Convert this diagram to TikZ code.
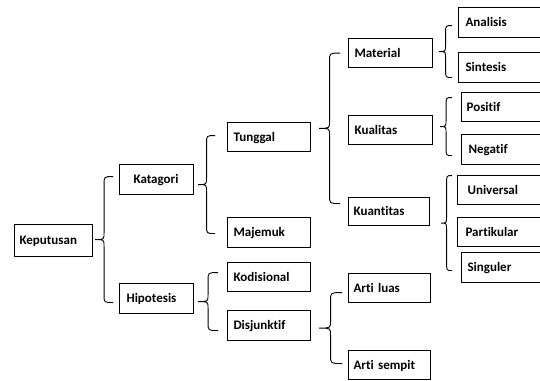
\documentclass[tikz,border=0pt]{standalone}
\usepackage{fontspec}
\setmainfont{Carlito}[RawFeature={-liga;-clig;-dlig}]
\usetikzlibrary{calc}

% curly brace from a parent box to its first and last child
% #1 parent, #2 top child, #3 bottom child,
% #4/#5 vertical shift of the upper/lower end, #6 gap at the tip, #7 gap at the ends
\newcommand\branch[7]{%
  \draw[brace] let \p1=(#1.east), \p2=(#2.west), \p3=(#3.west),
    \n1={\x1+#6}, \n2={\x2-#7}, \n3={(\n1+\n2)/2},
    \n4={\y2+#4}, \n5={\y3+#5}, \n6={(\n4+\n5)/2} in
    (\n2,\n4) .. controls (\n3,\n4) .. (\n3,\n4-8pt)
    -- (\n3,\n6+7pt) .. controls (\n3,\n6) .. (\n1,\n6)
    .. controls (\n3,\n6) .. (\n3,\n6-7pt)
    -- (\n3,\n5+8pt) .. controls (\n3,\n5) .. (\n2,\n5);
}

\begin{document}
\begin{tikzpicture}[x=1pt,y=-1pt,
  box/.style={draw, line width=1.1pt, anchor=north west, inner ysep=0pt,
    text height=8.4pt, text depth=0pt, align=left,
    font=\fontsize{13}{15}\selectfont\bfseries},
  brace/.style={draw, line width=0.9pt}]
\useasboundingbox (0,0) rectangle (540,380);
\clip (0,0) rectangle (540,380);

% boxes: position, height, left padding, text width
\node[box, minimum height=32pt, inner xsep=5pt,  text width=68pt] (kep) at (14,224) {Keputusan};
\node[box, minimum height=30pt, inner xsep=14pt, text width=46pt] (kat) at (119,164) {Katagori};
\node[box, minimum height=30pt, inner xsep=7pt,  text width=60pt] (hip) at (119,283) {Hipotesis};
\node[box, minimum height=29pt, inner xsep=6pt,  text width=71pt] (tun) at (227,122) {Tunggal};
\node[box, minimum height=30pt, inner xsep=6pt,  text width=71pt] (maj) at (227,217) {Majemuk};
\node[box, minimum height=29pt, inner xsep=6pt,  text width=71pt] (kod) at (227,262) {Kodisional};
\node[box, minimum height=30pt, inner xsep=6pt,  text width=71pt] (dis) at (227,310) {Disjunktif};
\node[box, minimum height=29pt, inner xsep=6pt,  text width=72pt] (mat) at (348,38)  {Material};
\node[box, minimum height=29pt, inner xsep=6pt,  text width=72pt] (kua) at (348,115) {Kualitas};
\node[box, minimum height=28pt, inner xsep=5pt,  text width=71pt] (kun) at (348,197) {Kuantitas};
\node[box, minimum height=29pt, inner xsep=5pt,  text width=72pt] (alu) at (348,273) {Arti luas};
\node[box, minimum height=29pt, inner xsep=5pt,  text width=72pt] (ase) at (348,350) {Arti sempit};
\node[box, minimum height=30pt, inner xsep=7pt,  text width=86pt] (ana) at (458,7)   {Analisis};
\node[box, minimum height=30pt, inner xsep=7pt,  text width=86pt] (sin) at (458,52)  {Sintesis};
\node[box, minimum height=29pt, inner xsep=5pt,  text width=90pt] (pos) at (461,92)  {Positif};
\node[box, minimum height=30pt, inner xsep=7pt,  text width=86pt] (neg) at (461,134) {Negatif};
\node[box, minimum height=29pt, inner xsep=10pt, text width=80pt] (uni) at (457,175) {Universal};
\node[box, minimum height=29pt, inner xsep=8pt,  text width=84pt] (par) at (457,217) {Partikular};
\node[box, minimum height=30pt, inner xsep=6pt,  text width=88pt] (sng) at (461,252) {Singuler};

% braces
\branch{kep}{kat}{hip}{3pt}{-4pt}{2pt}{6pt}
\branch{kat}{tun}{maj}{1.5pt}{-1pt}{4pt}{12pt}
\branch{hip}{kod}{dis}{4.5pt}{-5pt}{4pt}{9pt}
\branch{tun}{mat}{kun}{0pt}{8pt}{8pt}{8pt}
\branch{dis}{alu}{ase}{-4.5pt}{1.5pt}{8pt}{6pt}
\branch{mat}{ana}{sin}{-3pt}{-10pt}{6pt}{6pt}
\branch{kua}{pos}{neg}{9.5pt}{-6pt}{7pt}{9pt}
\branch{kun}{uni}{sng}{14.5pt}{-3pt}{11pt}{5pt}
\end{tikzpicture}
\end{document}
